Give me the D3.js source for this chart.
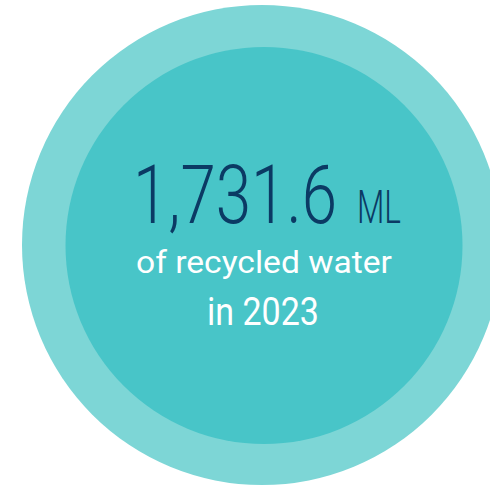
<!DOCTYPE html>
<html>
<head>
<meta charset="utf-8">
<script src="https://cdn.jsdelivr.net/npm/d3@7"></script>
<style>
  html, body { margin: 0; padding: 0; background: #fff; }
  svg { display: block; }
  text { font-family: Roboto, "Noto Sans", sans-serif; }
</style>
</head>
<body>
<script>
// recycled water figure
const value = 1731.6;
const unit = "ML";
const year = 2023;
const labels = ["of recycled water", "in " + year];

const width = 490, height = 487;

const svg = d3.select("body").append("svg")
  .attr("width", width)
  .attr("height", height);

// outer halo + inner disc
svg.append("circle")
  .attr("cx", 262).attr("cy", 245).attr("r", 240)
  .attr("fill", "#7dd6d6");
svg.append("circle")
  .attr("cx", 264).attr("cy", 245.5).attr("r", 198.5)
  .attr("fill", "#48c5c8");

let fmt = d3.format(",.1f");

// squeeze a text to a given width (the original face is narrower than Roboto)
function fit(t, x, y, w) {
  let nat = t.node().getComputedTextLength();
  t.attr("transform", "translate(" + x + "," + y + ") scale(" + (w / nat) + ",1)");
}

let big = svg.append("text")
  .attr("font-size", 81.5)
  .attr("font-weight", 300)
  .attr("fill", "#0b3a64")
  .text(fmt(value));
fit(big, 133, 222.7, 204);

let u = svg.append("text")
  .attr("font-size", 46)
  .attr("font-weight", 300)
  .attr("fill", "#0b3a64")
  .text(unit);
fit(u, 357, 222.7, 44);

// white caption lines
let lines = [
  { x: 136, y: 273.3, size: 32, len: 256 },
  { x: 207, y: 325, size: 38, len: 112 }
];
svg.selectAll("text.lbl")
  .data(labels)
  .join("text")
  .attr("class", "lbl")
  .attr("font-size", (d, i) => lines[i].size)
  .attr("fill", "#ffffff")
  .text(d => d)
  .each(function (d, i) {
    fit(d3.select(this), lines[i].x, lines[i].y, lines[i].len);
  });
</script>
</body>
</html>
